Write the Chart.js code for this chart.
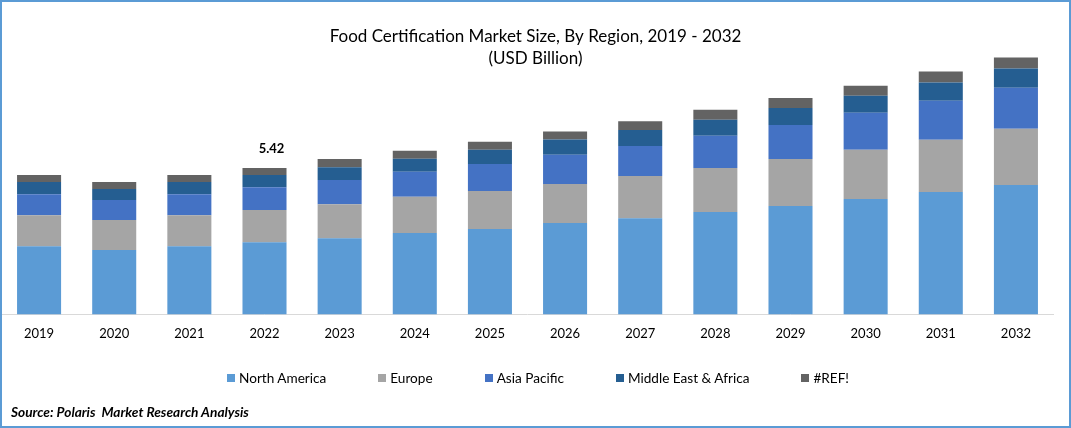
<!DOCTYPE html>
<html>
<head>
<meta charset="utf-8">
<title>Food Certification Market Size</title>
<script src="https://cdn.jsdelivr.net/npm/chart.js@4/dist/chart.umd.min.js"></script>
<style>
html, body { margin: 0; padding: 0; background: #fff; }
#frame { position: relative; width: 1071px; height: 428px; overflow: hidden; }
#frame:after { content: ""; position: absolute; left: 0; top: 0; right: 0; bottom: 0; border: 2px solid #5b9bd5; pointer-events: none; }
#source { position: absolute; left: 11px; top: 403px; font: italic bold 13.7px Lato, sans-serif; color: #000; }
#legend { position: absolute; left: 227px; top: 370px; display: flex; font: 13.6px/16px Lato, sans-serif; color: #000; white-space: nowrap; }
#legend div { display: flex; align-items: center; margin-right: 52px; }
#legend i { display: block; width: 8px; height: 8px; margin-right: 4px; }
</style>
</head>
<body>
<div id="frame">
  <canvas id="myChart" width="1071" height="428"></canvas>
  <div id="legend"></div>
  <div id="source">Source: Polaris&nbsp; Market Research Analysis</div>
</div>
<script>
var years = ['2019', '2020', '2021', '2022', '2023', '2024', '2025', '2026', '2027', '2028', '2029', '2030', '2031', '2032'];
var northAmerica = [2.52, 2.38, 2.52, 2.67, 2.82, 3.01, 3.16, 3.38, 3.56, 3.79, 4.01, 4.27, 4.53, 4.79];
var europe = [1.15, 1.11, 1.15, 1.19, 1.26, 1.34, 1.41, 1.45, 1.56, 1.63, 1.74, 1.82, 1.93, 2.08];
var asiaPacific = [0.78, 0.74, 0.78, 0.85, 0.89, 0.93, 1.00, 1.08, 1.11, 1.19, 1.26, 1.37, 1.45, 1.52];
var middleEastAfrica = [0.45, 0.41, 0.45, 0.45, 0.48, 0.48, 0.52, 0.56, 0.59, 0.59, 0.63, 0.63, 0.67, 0.71];
var refSeries = [0.26, 0.26, 0.26, 0.26, 0.30, 0.30, 0.30, 0.30, 0.33, 0.37, 0.37, 0.37, 0.41, 0.41];
var calloutYear = '2022';
var calloutText = '5.42';

function makeSet(label, data, color) {
    return { label: label, data: data, backgroundColor: color, categoryPercentage: 0.586, barPercentage: 1 };
}

// 5.42 sits over the 2022 bar, a bit right of its centre
var calloutPlugin = {
    id: 'callout',
    afterDatasetsDraw: function (chart) {
        var last = chart.getDatasetMeta(chart.data.datasets.length - 1);
        var bar = last.data[years.indexOf(calloutYear)];
        var ctx = chart.ctx;
        ctx.save();
        ctx.font = 'bold 13px Lato, sans-serif';
        ctx.fillStyle = '#000';
        ctx.textAlign = 'center';
        ctx.textBaseline = 'middle';
        ctx.fillText(calloutText, bar.x + 7, bar.y - 19);
        ctx.restore();
    }
};

var chart = new Chart(document.getElementById('myChart').getContext('2d'), {
    type: 'bar',
    data: {
        labels: years,
        datasets: [
            makeSet('North America', northAmerica, '#5b9bd5'),
            makeSet('Europe', europe, '#a5a5a5'),
            makeSet('Asia Pacific', asiaPacific, '#4472c4'),
            makeSet('Middle East & Africa', middleEastAfrica, '#255e91'),
            makeSet('#REF!', refSeries, '#636363')
        ]
    },
    plugins: [calloutPlugin],
    options: {
        responsive: false,
        animation: false,
        layout: { padding: { left: 1.5, right: 1.5, top: 0, bottom: 82 } },
        plugins: {
            title: {
                display: true,
                text: ['Food Certification Market Size, By Region, 2019 - 2032', '(USD Billion)'],
                color: '#000',
                font: { family: 'Lato, sans-serif', size: 17, weight: 'normal', lineHeight: 1.294 },
                padding: { top: 25.5, bottom: -14.5 }
            },
            legend: { display: false },
            tooltip: { enabled: false }
        },
        scales: {
            x: {
                stacked: true,
                grid: { display: false },
                border: { color: '#d9d9d9', width: 1 },
                ticks: { color: '#000', padding: 4, maxRotation: 0, font: { family: 'Lato, sans-serif', size: 13 } }
            },
            y: {
                stacked: true,
                position: 'right',
                min: 0,
                max: 9.6,
                grid: { display: false },
                border: { display: false },
                ticks: { display: false },
                afterFit: function (scale) { scale.width = 16; }
            }
        }
    }
});

// legend row built from the chart's own datasets
var legendBox = document.getElementById('legend');
chart.data.datasets.forEach(function (set) {
    var item = document.createElement('div');
    var swatch = document.createElement('i');
    swatch.style.background = set.backgroundColor;
    item.appendChild(swatch);
    item.appendChild(document.createTextNode(set.label));
    legendBox.appendChild(item);
});
</script>
</body>
</html>
